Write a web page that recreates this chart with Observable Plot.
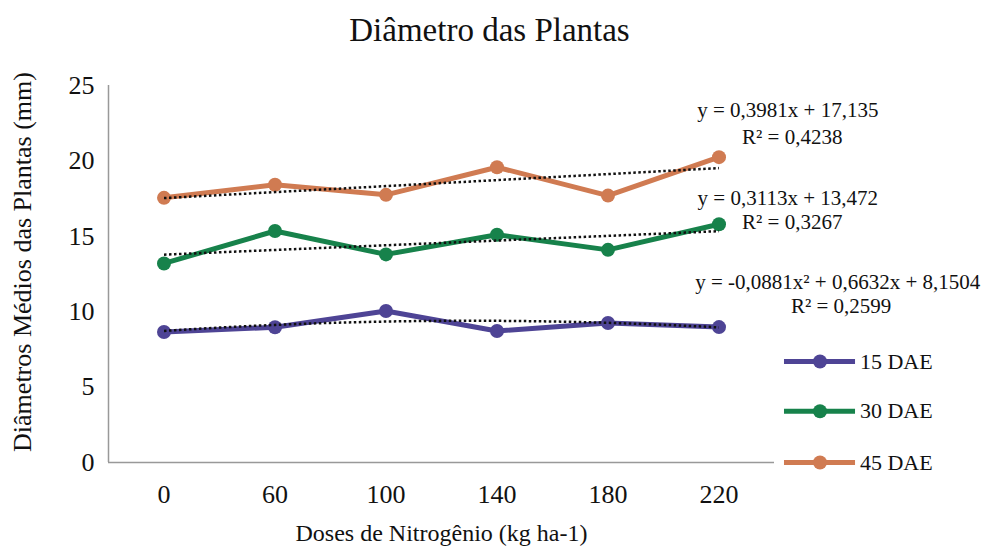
<!DOCTYPE html>
<html><head><meta charset="utf-8">
<script src="https://cdn.jsdelivr.net/npm/d3@7"></script>
<script src="https://cdn.jsdelivr.net/npm/@observablehq/plot@0.6"></script>
<style>
body{margin:0;background:#fff;}
#chart{width:999px;height:550px;}
#chart svg, #chart svg text{font-family:"Liberation Serif","Times New Roman",Tinos,"DejaVu Serif","Noto Serif",serif !important;}
</style>
</head><body><div id="chart"></div>
<script>
const doses = ["0","60","100","140","180","220"];
const series = ["15 DAE","30 DAE","45 DAE"];
const colors = ["#4e4495","#17824b","#d07b52"];
const v15 = [8.65, 8.97, 10.05, 8.72, 9.25, 8.98];
const v30 = [13.2, 15.35, 13.8, 15.1, 14.1, 15.8];
const v45 = [17.55, 18.42, 17.75, 19.58, 17.7, 20.25];
// trendline coefficients [a2, a1, a0] (Excel, x = 1..6)
const coef15 = [-0.0881, 0.6632, 8.1504];
const coef30 = [0, 0.3113, 13.472];
const coef45 = [0, 0.3981, 17.135];
const eqText = ["y = -0,0881x² + 0,6632x + 8,1504", "y = 0,3113x + 13,472", "y = 0,3981x + 17,135"];
const r2Text = ["R² = 0,2599", "R² = 0,3267", "R² = 0,4238"];

const FF = "'Liberation Serif', 'Times New Roman', serif";
const values = [v15, v30, v45];
const coefs = [coef15, coef30, coef45];
const pts = [];
series.forEach((s, k) => values[k].forEach((v, i) => pts.push({s, i: i + 1, v})));
const trend = [];
series.forEach((s, k) => {
  const [a2, a1, a0] = coefs[k];
  for (let t = 0; t <= 50; t++) {
    const x = 1 + t * 5 / 50;
    trend.push({s, i: x, v: a2 * x * x + a1 * x + a0});
  }
});
const eqs = [
  {t: eqText[2], x: 6.62, y: 23.35}, {t: r2Text[2], x: 6.66, y: 21.55},
  {t: eqText[1], x: 6.62, y: 17.5}, {t: r2Text[1], x: 6.66, y: 15.9},
  {t: eqText[0], x: 7.07, y: 11.95}, {t: r2Text[0], x: 7.1, y: 10.35}
];
const leg = series.map((s, k) => ({s, y: [6.7, 3.4, 0][k]}));

const plot = Plot.plot({
  width: 999, height: 550,
  marginLeft: 108, marginRight: 225, marginTop: 85, marginBottom: 88,
  style: {fontFamily: FF, fontSize: "24px", color: "#222", background: "#fff"},
  x: {domain: [0.5, 6.5], ticks: [1,2,3,4,5,6], tickFormat: d => doses[d - 1], label: null},
  y: {domain: [0, 25], ticks: [0,5,10,15,20,25], label: null},
  color: {domain: series, range: colors},
  marks: [
    Plot.axisY({tickSize: 0, tickPadding: 14, fontSize: 26, fontFamily: FF, fill: "#111", ticks: [0,5,10,15,20,25]}),
    Plot.axisX({tickSize: 0, tickPadding: 22, fontSize: 26, fontFamily: FF, fill: "#111", ticks: [1,2,3,4,5,6], tickFormat: d => doses[d - 1]}),
    Plot.ruleX([0.5], {stroke: "#999", strokeWidth: 1.5}),
    Plot.ruleY([0], {x1: 0.5, x2: 6.5, stroke: "#999", strokeWidth: 1.5}),
    Plot.line(pts, {x: "i", y: "v", z: "s", stroke: "s", strokeWidth: 5}),
    Plot.dot(pts, {x: "i", y: "v", fill: "s", r: 7}),
    Plot.line(trend, {x: "i", y: "v", z: "s", stroke: "#111", strokeWidth: 2.5, strokeDasharray: "2.5,2.5", strokeLinecap: "butt", strokeLinejoin: "miter"}),
    Plot.text(eqs, {x: "x", y: "y", text: "t", fontSize: 21, fontFamily: FF, fill: "#111", clip: false}),
    Plot.ruleY(leg, {y: "y", x1: 6.59, x2: 7.23, stroke: "s", strokeWidth: 5, clip: false}),
    Plot.dot(leg, {x: 6.91, y: "y", fill: "s", r: 7, clip: false}),
    Plot.text(leg, {x: 7.27, y: "y", text: "s", textAnchor: "start", fontSize: 22, fontFamily: FF, fill: "#111", clip: false}),
    Plot.text(["Diâmetro das Plantas"], {frameAnchor: "top", lineAnchor: "middle", dy: -55, dx: 48, fontSize: 33, fontFamily: FF, fill: "#111"}),
    Plot.text(["Doses de Nitrogênio (kg ha-1)"], {frameAnchor: "bottom", lineAnchor: "middle", dy: 71, fontSize: 24, fontFamily: FF, fill: "#111"}),
    Plot.text(["Diâmetros Médios das Plantas (mm)"], {frameAnchor: "left", dx: -86, dy: -12, rotate: -90, textAnchor: "middle", fontSize: 26, fontFamily: FF, fill: "#111"})
  ]
});
document.getElementById("chart").appendChild(plot);
</script>
</body></html>
